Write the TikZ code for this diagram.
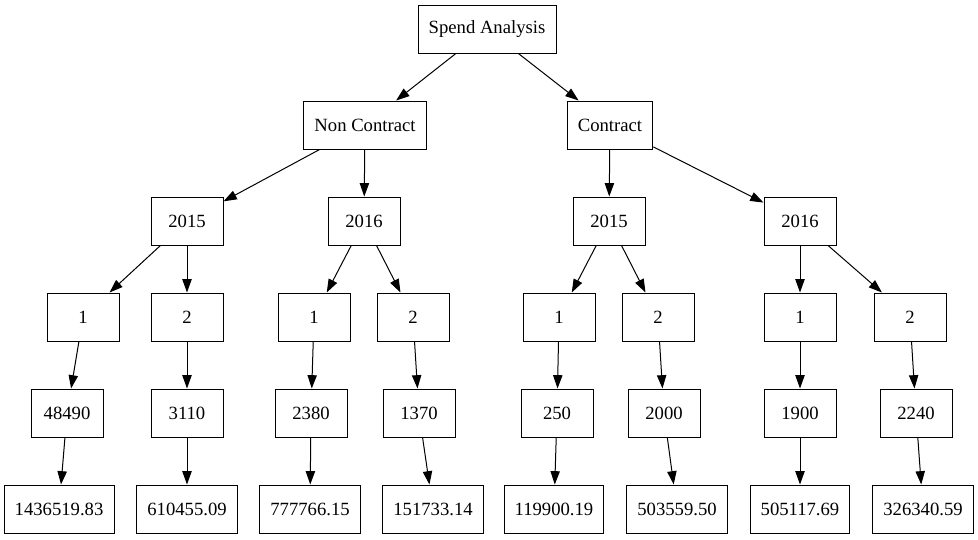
\documentclass[tikz,border=0pt]{standalone}
\usepackage{fontspec}
\setmainfont{Liberation Serif}
\usetikzlibrary{arrows.meta}
\begin{document}
\begin{tikzpicture}[x=0.75pt,y=-0.75pt,
  box/.style={draw, rectangle, minimum width=54pt, minimum height=36pt, inner xsep=8pt, font=\fontsize{14}{16}\selectfont, line width=0.75pt},
  edge/.style={-{Triangle[length=10pt,width=7pt]}, line width=0.75pt}]
\useasboundingbox (0,0) rectangle (978,539);
% row 1-2
\node[box] (root) at (487,29) {Spend Analysis};
\node[box] (nc) at (365,125) {Non Contract};
\node[box] (c) at (610,125) {Contract};
% row 3
\node[box] (nc15) at (187,221) {2015};
\node[box] (nc16) at (364,221) {2016};
\node[box] (c15) at (609,221) {2015};
\node[box] (c16) at (800,221) {2016};
% row 4
\node[box] (nc15a) at (83,317) {1};
\node[box] (nc15b) at (187,317) {2};
\node[box] (nc16a) at (314,317) {1};
\node[box] (nc16b) at (413,317) {2};
\node[box] (c15a) at (559,317) {1};
\node[box] (c15b) at (658,317) {2};
\node[box] (c16a) at (800,317) {1};
\node[box] (c16b) at (910,317) {2};
% row 5
\node[box] (nc15av) at (67,413) {48490};
\node[box] (nc15bv) at (187,413) {3110};
\node[box] (nc16av) at (311,413) {2380};
\node[box] (nc16bv) at (419,413) {1370};
\node[box] (c15av) at (557,413) {250};
\node[box] (c15bv) at (664,413) {2000};
\node[box] (c16av) at (800,413) {1900};
\node[box] (c16bv) at (916,413) {2240};
% row 6
\node[box] (nc15as) at (59,509) {1436519.83};
\node[box] (nc15bs) at (187,509) {610455.09};
\node[box] (nc16as) at (310,509) {777766.15};
\node[box] (nc16bs) at (433,509) {151733.14};
\node[box] (c15as) at (554,509) {119900.19};
\node[box] (c15bs) at (677,509) {503559.50};
\node[box] (c16as) at (800,509) {505117.69};
\node[box] (c16bs) at (923,509) {326340.59};
% edges
\draw[edge] (root) -- (nc);
\draw[edge] (root) -- (c);
\draw[edge] (nc) -- (nc15);
\draw[edge] (nc) -- (nc16);
\draw[edge] (c) -- (c15);
\draw[edge] (c) -- (c16);
\draw[edge] (nc15) -- (nc15a);
\draw[edge] (nc15) -- (nc15b);
\draw[edge] (nc16) -- (nc16a);
\draw[edge] (nc16) -- (nc16b);
\draw[edge] (c15) -- (c15a);
\draw[edge] (c15) -- (c15b);
\draw[edge] (c16) -- (c16a);
\draw[edge] (c16) -- (c16b);
\draw[edge] (nc15a) -- (nc15av);
\draw[edge] (nc15b) -- (nc15bv);
\draw[edge] (nc16a) -- (nc16av);
\draw[edge] (nc16b) -- (nc16bv);
\draw[edge] (c15a) -- (c15av);
\draw[edge] (c15b) -- (c15bv);
\draw[edge] (c16a) -- (c16av);
\draw[edge] (c16b) -- (c16bv);
\draw[edge] (nc15av) -- (nc15as);
\draw[edge] (nc15bv) -- (nc15bs);
\draw[edge] (nc16av) -- (nc16as);
\draw[edge] (nc16bv) -- (nc16bs);
\draw[edge] (c15av) -- (c15as);
\draw[edge] (c15bv) -- (c15bs);
\draw[edge] (c16av) -- (c16as);
\draw[edge] (c16bv) -- (c16bs);
\end{tikzpicture}
\end{document}
